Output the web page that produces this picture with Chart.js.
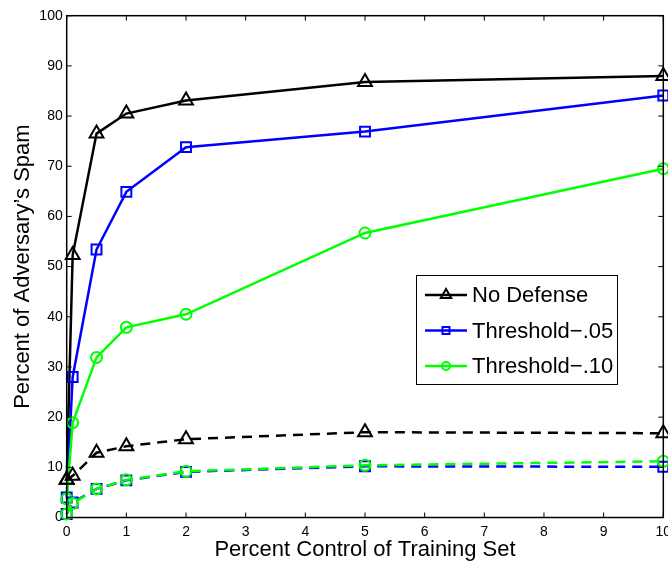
<!DOCTYPE html>
<html>
<head>
<meta charset="utf-8">
<script src="https://cdn.jsdelivr.net/npm/chart.js@4"></script>
<style>
    html, body { margin: 0; padding: 0; background: #fff; overflow: hidden; }
    #wrap { width: 690px; height: 561px; }
</style>
</head>
<body>
<div id="wrap"><canvas id="chart" width="690" height="561"></canvas></div>
<script>
// Percent control of training set (x positions)
const xValues = [0, 0.1, 0.5, 1, 2, 5, 10];

// Solid lines
const noDefense = [7.5, 52.3, 76.5, 80.5, 83.1, 86.8, 88.0];
const threshold05 = [4.0, 28.0, 53.4, 64.9, 73.8, 76.9, 84.1];
const threshold10 = [3.7, 18.9, 31.9, 37.9, 40.5, 56.7, 69.5];

// Dashed lines
const noDefenseDash = [7.5, 8.3, 12.9, 14.2, 15.6, 17.0, 16.8];
const threshold05Dash = [0.7, 3.0, 5.7, 7.4, 9.1, 10.2, 10.1];
const threshold10Dash = [0.7, 2.8, 5.7, 7.5, 9.2, 10.4, 11.2];

const yTicks = [0, 10, 20, 30, 40, 50, 60, 70, 80, 90, 100];
const xTicks = [0, 1, 2, 3, 4, 5, 6, 7, 8, 9, 10];

const FONT = '"Liberation Sans", Arial, Helvetica, sans-serif';
const BLACK = '#000000';
const BLUE = '#0000ff';
const GREEN = '#00ff00';

function toPoints(ys) {
    return xValues.map((x, i) => ({ x: x, y: ys[i] }));
}

function series(label, ys, color, style, radius, dashed, order) {
    return {
        label: label,
        data: toPoints(ys),
        borderColor: color,
        backgroundColor: color,
        borderWidth: 2.5,
        borderDash: dashed ? [10, 7] : [],
        pointStyle: style,
        pointRadius: radius,
        pointBorderWidth: 2,
        pointBorderColor: color,
        pointBackgroundColor: 'rgba(0,0,0,0)',
        tension: 0,
        clip: false,
        order: order,
        showInLegend: !dashed
    };
}

// Box frame and inward tick marks (MATLAB look)
const frameTicks = {
    id: 'frameTicks',
    afterDatasetsDraw(chart) {
        const { ctx, chartArea: a, scales } = chart;
        ctx.save();
        ctx.strokeStyle = BLACK;
        ctx.lineWidth = 1.5;
        ctx.strokeRect(a.left, a.top, a.right - a.left, a.bottom - a.top);
        ctx.lineWidth = 1;
        const len = 5;
        ctx.beginPath();
        xTicks.forEach(v => {
            const px = scales.x.getPixelForValue(v);
            ctx.moveTo(px, a.bottom); ctx.lineTo(px, a.bottom - len);
            ctx.moveTo(px, a.top); ctx.lineTo(px, a.top + len);
        });
        yTicks.forEach(v => {
            const py = scales.y.getPixelForValue(v);
            ctx.moveTo(a.left, py); ctx.lineTo(a.left + len, py);
            ctx.moveTo(a.right, py); ctx.lineTo(a.right - len, py);
        });
        ctx.stroke();
        ctx.restore();
    }
};

// Legend box inside the plot area
const boxLegend = {
    id: 'boxLegend',
    afterDraw(chart) {
        const { ctx } = chart;
        const items = chart.data.datasets.filter(d => d.showInLegend);
        const bx = 416, by = 275, bw = 201, bh = 109;
        ctx.save();
        ctx.fillStyle = '#fff';
        ctx.fillRect(bx, by, bw, bh);
        ctx.strokeStyle = BLACK;
        ctx.lineWidth = 1;
        ctx.strokeRect(bx + 0.5, by + 0.5, bw, bh);
        ctx.font = '22px ' + FONT;
        ctx.textBaseline = 'middle';
        items.forEach((d, i) => {
            const y = 295 + i * 35.5;
            ctx.strokeStyle = d.borderColor;
            ctx.lineWidth = 2.5;
            ctx.setLineDash([]);
            ctx.beginPath();
            ctx.moveTo(425, y); ctx.lineTo(467, y);
            ctx.stroke();
            ctx.fillStyle = 'rgba(0,0,0,0)';
            ctx.lineWidth = 2;
            const r = d.pointStyle === 'triangle' ? 6 : (d.pointStyle === 'rect' ? 5 : 4);
            Chart.helpers.drawPoint(ctx, {
                pointStyle: d.pointStyle,
                radius: r,
                rotation: 0,
                borderWidth: 2
            }, 446, y);
            ctx.fillStyle = BLACK;
            ctx.fillText(d.label, 472, y + 1);
        });
        ctx.restore();
    }
};

const ctx = document.getElementById('chart').getContext('2d');
new Chart(ctx, {
    type: 'line',
    data: {
        datasets: [
            series('No Defense', noDefense, BLACK, 'triangle', 8, false, 6),
            series('Threshold\u2212.05', threshold05, BLUE, 'rect', 7, false, 5),
            series('Threshold\u2212.10', threshold10, GREEN, 'circle', 5.5, false, 4),
            series('No Defense dashed', noDefenseDash, BLACK, 'triangle', 8, true, 3),
            series('Threshold-.05 dashed', threshold05Dash, BLUE, 'rect', 7, true, 2),
            series('Threshold-.10 dashed', threshold10Dash, GREEN, 'circle', 5.5, true, 1)
        ]
    },
    options: {
        responsive: false,
        animation: false,
        layout: { padding: { top: 15.7, right: 26.7, left: 0, bottom: 0 } },
        plugins: {
            legend: { display: false },
            tooltip: { enabled: false }
        },
        scales: {
            x: {
                type: 'linear',
                min: 0,
                max: 10,
                grid: { display: false, drawTicks: false },
                border: { display: false },
                afterBuildTicks: s => { s.ticks = xTicks.map(v => ({ value: v })); },
                afterFit: s => { s.height = 43.5; },
                ticks: {
                    color: BLACK,
                    padding: 6,
                    maxRotation: 0,
                    font: { family: FONT, size: 14 }
                },
                title: {
                    display: true,
                    text: 'Percent Control of Training Set',
                    color: BLACK,
                    font: { family: FONT, size: 22, lineHeight: 1 },
                    padding: { top: 0, bottom: 0 }
                }
            },
            y: {
                type: 'linear',
                min: 0,
                max: 100,
                grid: { display: false, drawTicks: false },
                border: { display: false },
                afterBuildTicks: s => { s.ticks = yTicks.map(v => ({ value: v })); },
                afterFit: s => { s.width = 66.7; },
                ticks: {
                    color: BLACK,
                    padding: 4,
                    font: { family: FONT, size: 14 }
                },
                title: {
                    display: true,
                    text: 'Percent of Adversary\u2019s Spam',
                    color: BLACK,
                    font: { family: FONT, size: 22, lineHeight: 1 },
                    padding: { top: 12, bottom: 0 }
                }
            }
        }
    },
    plugins: [frameTicks, boxLegend]
});
</script>
</body>
</html>
